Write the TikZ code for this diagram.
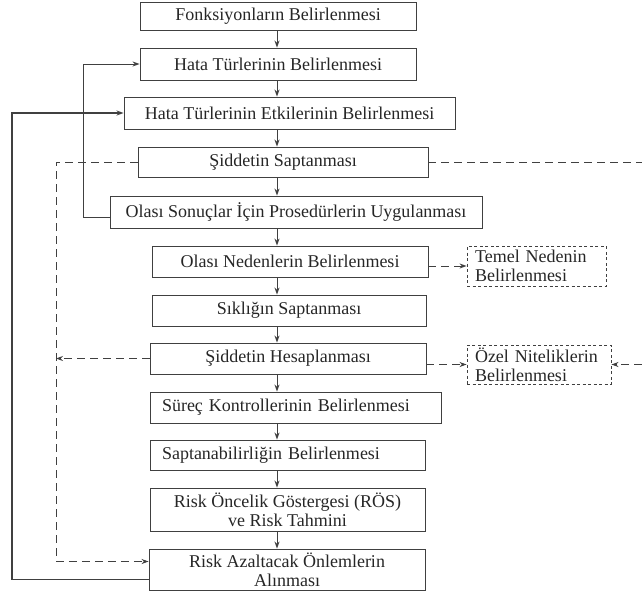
\documentclass[tikz,border=0pt]{standalone}
\usepackage{fontspec}
\setmainfont{Liberation Serif}
\usetikzlibrary{arrows.meta}
\tikzset{arr/.style = {-{Stealth[length=7pt,width=5pt]}}}
\tikzset{dsh/.style = {dash pattern = on 8pt off 5pt}}
\tikzset{box/.style = {draw, rectangle, inner sep = 0, align = center, text = black!85,
                       font = \fontsize{18}{19}\selectfont}}
\tikzset{lbox/.style = {box, inner xsep = 12pt, align = left}}
\tikzset{dbox/.style = {lbox, inner xsep = 8pt, dash pattern = on 3pt off 2.5pt}}

\begin{document}
\begin{tikzpicture}[x = 1pt, y = -1pt, line width = 0.9pt, draw = black!75]
    \useasboundingbox (0,0) rectangle (642,596);
    \node [box, minimum width = 276pt, minimum height = 28pt] (fonk) at (278,16) {Fonksiyonların Belirlenmesi};
    \node [box, minimum width = 276pt, minimum height = 32pt] (hata) at (278,64) {Hata Türlerinin Belirlenmesi};
    \node [box, minimum width = 331pt, minimum height = 32pt] (etki) at (289.5,113) {Hata Türlerinin Etkilerinin Belirlenmesi};
    \node [box, minimum width = 290pt, minimum height = 30pt] (sidd) at (283,162) {Şiddetin Saptanması};
    \node [box, minimum width = 372pt, minimum height = 32pt] (olasi) at (296,212) {Olası Sonuçlar İçin Prosedürlerin Uygulanması};
    \node [box, minimum width = 276pt, minimum height = 31pt] (neden) at (290,261.5) {Olası Nedenlerin Belirlenmesi};
    \node [box, minimum width = 274pt, minimum height = 31pt] (sikl) at (289,310.5) {Sıklığın Saptanması};
    \node [box, minimum width = 276pt, minimum height = 31pt] (hesap) at (288,358.5) {Şiddetin Hesaplanması};
    \node [lbox, text width = 267pt, minimum height = 31pt] (surec) at (295.5,407.5) {Süreç Kontrollerinin Belirlenmesi};
    \node [lbox, text width = 251pt, minimum height = 30pt] (sapt) at (287.5,455) {Saptanabilirliğin Belirlenmesi};
    \node [box, minimum width = 275pt, minimum height = 43pt] (ros) at (287.5,509.5) {Risk Öncelik Göstergesi (RÖS)\\ve Risk Tahmini};
    \node [box, minimum width = 276pt, minimum height = 41pt] (onlem) at (287,569.5) {Risk Azaltacak Önlemlerin\\Alınması};
	\node [dbox, text width = 123pt, minimum height = 40pt] (temel) at (536.5,266) {Temel Nedenin\\Belirlenmesi};
	\node [dbox, text width = 128pt, minimum height = 39pt] (ozel) at (539,364.5) {Özel Niteliklerin\\Belirlenmesi};

    \coordinate (ax) at (277,0);
    \coordinate (k1) at (83,0);
    \coordinate (k2) at (12,0);
    \coordinate (k3) at (56,0);
    \coordinate (rt) at (642,0);
    \coordinate (o1) at ([yshift = 8pt]onlem.west);

    \foreach \a/\b in {fonk/hata, hata/etki, etki/sidd, sidd/olasi, olasi/neden, neden/sikl,
                       sikl/hesap, hesap/surec, surec/sapt, sapt/ros, ros/onlem}
        \draw [arr] (ax |- \a.south) -- (ax |- \b.north);

    \draw [arr] ([yshift = -5pt]olasi.west) -| (k1 |- hata.west) -- (hata.west);
    \draw [arr, line width = 1.4pt] ([yshift = -10pt]onlem.west) -| (k2 |- etki.west) -- (etki.west);

    \draw [dsh, arr] (sidd.west) -| (k3 |- o1) -- (o1);
    \draw [dsh, arr] (hesap.west) -- (k3 |- hesap.west);
    \draw [dsh] (sidd.east) -- (rt |- sidd.east);
    \draw [dsh, arr] (neden.east |- temel) -- (temel.west);
    \draw [dsh, arr] (hesap.east |- ozel) -- (ozel.west);
    \draw [dsh, arr] (rt |- ozel) -- (ozel.east);
\end{tikzpicture}
\end{document}
